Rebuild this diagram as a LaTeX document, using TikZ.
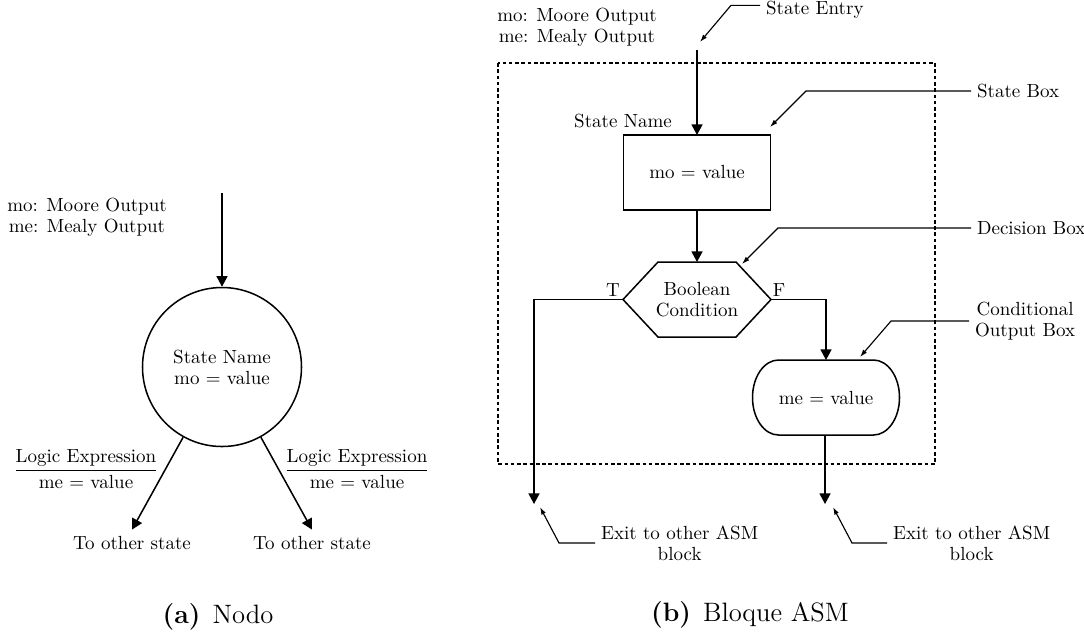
\documentclass[tikz,border=0pt]{standalone}
\usetikzlibrary{arrows.meta,calc}
\def\pxu{0.5263pt}
\begin{document}
\begin{tikzpicture}[x=0.5263pt,y=-0.5263pt,
  every node/.style={font=\fontsize{10}{11}\selectfont},
  line/.style={line width=0.8pt},
  main/.style={line width=0.8pt,-{Triangle[length=5.6pt,width=5.8pt]}},
  annot/.style={line width=0.6pt,-{Latex[length=4pt,width=2.6pt]}},
  lbl/.style={align=center},
  albl/.style={anchor=west,align=center,inner xsep=3pt},
  dbox/.style={line width=0.6pt,dash pattern=on 1.9pt off 1.4pt},
  boxst/.style={minimum width={147*\pxu},minimum height={75*\pxu},inner sep=0pt,outer sep=0pt,align=center},
  captxt/.style={font=\fontsize{14}{16}\selectfont}]
\useasboundingbox (0,0) rectangle (1084,635);

% ---------- (a) Nodo ----------
\node[lbl] (legA) at (87,217.5) {mo: Moore Output\\me: Mealy Output};
\coordinate (inA) at (222,193);
\node[draw,circle,line width=0.8pt,minimum size={159*\pxu},inner sep=0pt,align=center] (st) at (222,367) {State Name\\mo = value};
\draw[main] (inA) -- (st);
\node (toL) at (132,543) {To other state};
\node (toR) at (312,543) {To other state};
\draw[main] (st) -- (toL.north);
\draw[main] (st) -- (toR.north);
\node (frL) at (86,469) {$\displaystyle\frac{\mbox{Logic Expression}}{\mbox{me = value}}$};
\node (frR) at (357,469) {$\displaystyle\frac{\mbox{Logic Expression}}{\mbox{me = value}}$};
\node[captxt] (capA) at (218,617) {\textbf{(a)}\hspace{0.45em}Nodo};

% ---------- (b) Bloque ASM ----------
\node[lbl] (legB) at (577,27) {mo: Moore Output\\me: Mealy Output};
\draw[dbox] (498,63) rectangle (935,464);
\coordinate (inB) at (697,50);
\node[boxst,draw,line width=0.8pt] (sbox) at (697,172.5) {mo = value};
\node (sname) at (623,121) {State Name};
\draw[main] (inB) -- (sbox);
\node[boxst,minimum width={148*\pxu}] (hex) at (697,299.5) {Boolean\\Condition};
\draw[line] (hex.west) -- ([xshift={35*\pxu}]hex.north west) -- ([xshift={-35*\pxu}]hex.north east) -- (hex.east) -- ([xshift={-35*\pxu}]hex.south east) -- ([xshift={35*\pxu}]hex.south west) -- cycle;
\draw[main] (sbox) -- (hex);
\node (tl) at (613,290) {T};
\node (fl) at (779,290) {F};
\node[boxst] (cbox) at (826,397.5) {me = value};
\draw[line] ([xshift={26*\pxu}]cbox.north west) -- ([xshift={-26*\pxu}]cbox.north east)
  arc[start angle=90,end angle=-90,x radius={26*\pxu},y radius={37.5*\pxu}]
  -- ([xshift={26*\pxu}]cbox.south west)
  arc[start angle=270,end angle=90,x radius={26*\pxu},y radius={37.5*\pxu}] -- cycle;
\coordinate (exT) at (534,504);
\coordinate (exF) at (825,504);
\draw[main] (hex.west) -| (exT);
\draw[main] (hex.east) -| (cbox);
\draw[main] (cbox.south -| exF) -- (exF);

% annotations
\node[albl] (aEntry) at (760,9.5) {State Entry};
\coordinate (kEntry) at (731,5);
\coordinate (tEntry) at (700,42);
\draw[annot] ([yshift=2.2pt]aEntry.west) -- ([yshift=2.2pt]aEntry.west -| kEntry) -- (tEntry);

\node[albl] (aBox) at (971,91) {State Box};
\coordinate (kBox) at (806,91);
\coordinate (tBox) at (770,127);
\draw[annot] (aBox.west) -- (aBox.west -| kBox) -- (tBox);

\node[albl] (aDec) at (971,228) {Decision Box};
\coordinate (kDec) at (778,228);
\coordinate (tDec) at (742,264);
\draw[annot] (aDec.west) -- (aDec.west -| kDec) -- (tDec);

\node[albl] (aCond) at (969,321) {Conditional\\Output Box};
\coordinate (kCond) at (891,321);
\coordinate (tCond) at (860,357);
\draw[annot] (aCond.west) -- (aCond.west -| kCond) -- (tCond);

\node[albl] (aExL) at (595,543) {Exit to other ASM\\block};
\coordinate (kExL) at (559,543);
\coordinate (tExL) at (540,507);
\draw[annot] (aExL.west) -- (aExL.west -| kExL) -- (tExL);

\node[albl] (aExR) at (887,543) {Exit to other ASM\\block};
\coordinate (kExR) at (852,543);
\coordinate (tExR) at (833,507);
\draw[annot] (aExR.west) -- (aExR.west -| kExR) -- (tExR);

\node[captxt] (capB) at (750,615) {\textbf{(b)}\hspace{0.45em}Bloque ASM};
\end{tikzpicture}
\end{document}
